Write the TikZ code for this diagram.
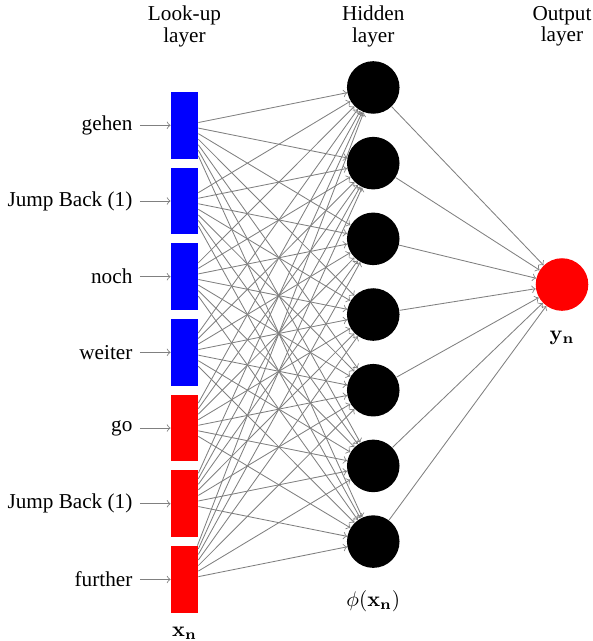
\documentclass[tikz,border=0pt]{standalone}
\usepackage[no-math]{fontspec}
\setmainfont{Liberation Serif}
\usetikzlibrary{positioning}
\definecolor{wire}{gray}{0.5}
\tikzset{
  lookup/.style={rectangle, minimum width=12.7pt, minimum height=31.5pt, inner sep=0pt},
  neuron/.style={circle, minimum size=24.8pt, inner sep=0pt},
  header/.style={align=center},
  wired/.style={->, draw=wire}
}
\newcommand{\hsep}{3.13}
\newcommand{\vsep}{1.255}

\begin{document}
\begin{tikzpicture}
\useasboundingbox (-3.059, 2.078) rectangle (6.773, -8.551);

% look-up layer
\node[lookup, fill=blue] (x1) at (0, 0) {};
\node[lookup, fill=blue] (x2) at (0, -1*\vsep) {};
\node[lookup, fill=blue] (x3) at (0, -2*\vsep) {};
\node[lookup, fill=blue] (x4) at (0, -3*\vsep) {};
\node[lookup, fill=red] (x5) at (0, -4*\vsep) {};
\node[lookup, fill=red] (x6) at (0, -5*\vsep) {};
\node[lookup, fill=red] (x7) at (0, -6*\vsep) {};

% words
\node[left=0.51cm of x1] (w1) {gehen};
\node[left=0.51cm of x2] (w2) {Jump Back (1)};
\node[left=0.51cm of x3] (w3) {noch};
\node[left=0.51cm of x4] (w4) {weiter};
\node[left=0.51cm of x5] (w5) {go};
\node[left=0.51cm of x6] (w6) {Jump Back (1)};
\node[left=0.51cm of x7] (w7) {further};

% hidden layer
\node[neuron, fill=black] (h1) at (\hsep, 0.5*\vsep) {};
\node[neuron, fill=black] (h2) at (\hsep, -0.5*\vsep) {};
\node[neuron, fill=black] (h3) at (\hsep, -1.5*\vsep) {};
\node[neuron, fill=black] (h4) at (\hsep, -2.5*\vsep) {};
\node[neuron, fill=black] (h5) at (\hsep, -3.5*\vsep) {};
\node[neuron, fill=black] (h6) at (\hsep, -4.5*\vsep) {};
\node[neuron, fill=black] (h7) at (\hsep, -5.5*\vsep) {};

% output layer
\node[neuron, fill=red] (y) at (2*\hsep, -2.64) {};

% labels
\node[header] (hlook) at (0, 1.64) {Look-up\\[-2pt]layer};
\node[header] (hhidden) at (\hsep, 1.64) {Hidden\\[-2pt]layer};
\node[header] (houtput) at (2*\hsep, 1.64) {Output\\[-2pt]layer};
\node[below=0.1cm of x7] (lx) {$\mathbf{x_n}$};
\node[below=0.25cm of h7] (lh) {$\phi(\mathbf{x_n})$};
\node[below=0.2cm of y] (ly) {$\mathbf{y_n}$};

% edges
\foreach \i in {1,...,7} {
  \draw[wired] (w\i) -- (x\i);
  \draw[wired] (h\i) -- (y);
  \foreach \j in {1,...,7}
    \draw[wired] (x\i) -- (h\j);
}
\end{tikzpicture}
\end{document}
